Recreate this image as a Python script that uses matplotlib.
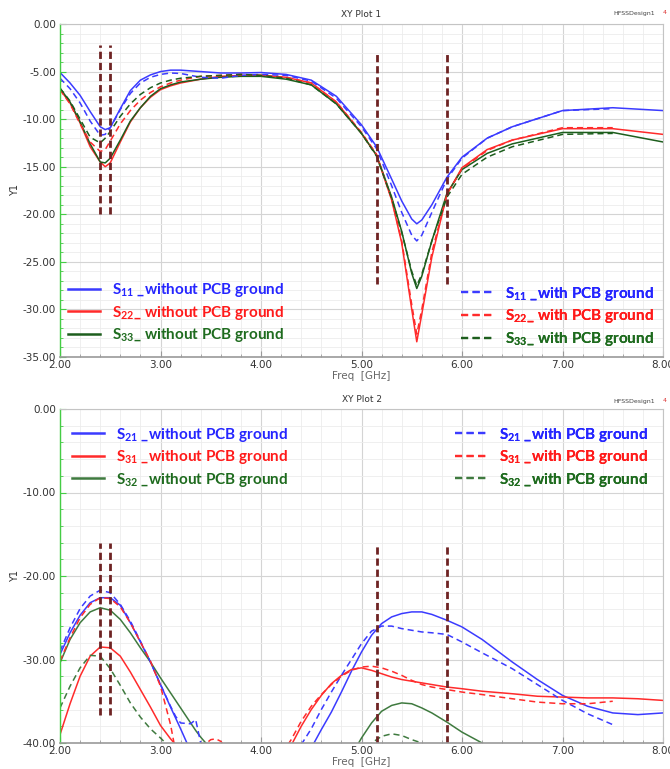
import numpy as np
import matplotlib
matplotlib.use("Agg")
import matplotlib.pyplot as plt
from matplotlib.lines import Line2D
from matplotlib.ticker import MultipleLocator, FormatStrFormatter

N = np.nan

# ---- XY Plot 1 : reflection (dB) ----
freq_top = [2.0, 2.1, 2.2, 2.3, 2.4, 2.45, 2.5, 2.6, 2.7, 2.8, 2.9, 3.0, 3.1, 3.2, 3.4, 3.6, 3.8, 4.0, 4.25,
            4.5, 4.75, 5.0, 5.15, 5.3, 5.4, 5.5, 5.55, 5.6, 5.7, 5.85, 6.0, 6.25, 6.5, 7.0, 7.5, 8.0]
s11_without = [-5.1, -6.2, -7.5, -9.2, -10.8, -11.1, -10.9, -8.9, -7.0, -5.9, -5.35, -5.0, -4.85, -4.85, -5.0,
               -5.15, -5.15, -5.1, -5.3, -5.9, -7.6, -10.6, -12.9, -16.3, -18.6, -20.5, -21.0, -20.6, -19.0,
               -16.1, -14.0, -12.0, -10.8, -9.1, -8.8, -9.1]
s11_with = [-5.7, -6.8, -8.3, -10.2, -11.7, -11.6, -10.9, -9.0, -7.3, -6.2, -5.6, -5.3, -5.15, -5.2, -5.6,
            -5.7, -5.4, -5.3, -5.4, -6.0, -7.8, -10.8, -13.1, -17.0, -19.8, -22.2, -22.8, -22.2, -19.8,
            -16.3, -14.1, -12.0, -10.8, -9.1, -8.9, N]
s22_without = [-6.9, -8.3, -10.4, -12.9, -14.5, -15.0, -14.6, -12.4, -10.3, -8.8, -7.7, -6.9, -6.5, -6.2, -5.8,
               -5.5, -5.4, -5.4, -5.6, -6.2, -8.2, -11.5, -13.8, -18.5, -23.0, -30.0, -33.4, -30.5, -24.5,
               -17.9, -15.1, -13.2, -12.2, -11.0, -11.0, -11.6]
s22_with = [-6.9, -8.4, -10.5, -12.4, -13.4, -13.2, -12.3, -10.5, -9.1, -8.0, -7.2, -6.6, -6.2, -5.9, -5.5,
            -5.4, -5.3, -5.4, -5.6, -6.2, -8.2, -11.4, -13.7, -18.4, -22.8, -29.5, -32.6, -30.0, -24.0,
            -17.9, -15.2, -13.3, -12.2, -10.9, -10.9, N]
s33_without = [-6.75, -8.2, -10.3, -12.6, -14.5, -14.6, -14.1, -12.2, -10.2, -8.8, -7.6, -6.8, -6.4, -6.1, -5.8,
               -5.6, -5.5, -5.5, -5.8, -6.4, -8.4, -11.5, -13.8, -18.2, -21.8, -26.2, -27.8, -26.5, -22.8,
               -17.8, -15.3, -13.6, -12.6, -11.4, -11.4, -12.4]
s33_with = [-6.75, -8.1, -10.0, -11.9, -12.5, -12.0, -11.3, -9.7, -8.4, -7.4, -6.7, -6.2, -5.9, -5.7, -5.5,
            -5.4, -5.3, -5.4, -5.7, -6.4, -8.4, -11.5, -13.9, -18.3, -21.9, -26.0, -27.5, -26.3, -22.8,
            -18.2, -15.8, -14.0, -12.9, -11.6, -11.5, N]

# ---- XY Plot 2 : isolation (dB) ----
freq_bot = [2.0, 2.1, 2.2, 2.3, 2.4, 2.5, 2.6, 2.7, 2.8, 2.9, 3.0, 3.1, 3.15, 3.2, 3.3, 3.35, 3.4, 3.45,
            3.5, 3.55, 3.6, 3.65, 4.2, 4.3, 4.4, 4.5, 4.6, 4.7, 4.8, 4.9, 5.0, 5.1, 5.2, 5.3, 5.4, 5.5,
            5.6, 5.7, 5.85, 6.0, 6.2, 6.5, 6.75, 7.0, 7.25, 7.5, 7.75, 8.0]
s21_without = [-29.4, -26.8, -24.7, -23.2, -22.6, -22.6, -23.5, -25.6, -27.9, -30.3, -33.0, -35.7, -37.0,
               -38.3, -41.0, N, N, N, N, N, N, N,
               N, N, N, -40.6, -38.4, -36.3, -33.9, -31.4, -29.1, -27.1, -25.7, -24.9, -24.5, -24.3, -24.3,
               -24.6, -25.3, -26.1, -27.6, -30.3, -32.4, -34.3, -35.6, -36.4, -36.6, -36.4]
s21_with = [-29.0, -26.2, -23.9, -22.4, -21.7, -22.0, -23.4, -25.4, -27.8, -30.3, -33.0, -35.6, -36.8,
            -37.6, -37.7, -37.2, -40.0, -41.5, N, N, N, N,
            N, N, -40.2, -38.3, -36.0, -33.9, -31.9, -30.0, -28.1, -26.6, -26.0, -26.0, -26.3, -26.5, -26.7,
            -26.8, -27.0, -27.9, -29.2, -31.1, -33.0, -34.9, -36.5, -37.8, N, N]
s31_without = [-39.0, -35.3, -32.0, -29.6, -28.5, -28.6, -29.6, -31.5, -33.6, -35.7, -37.9, -39.5, -40.2,
               -41.5, N, N, N, N, N, N, N, N,
               N, -40.3, -38.0, -36.0, -34.3, -32.9, -31.9, -31.2, -31.0, -31.3, -31.7, -32.1, -32.4, -32.6,
               -32.8, -33.0, -33.3, -33.5, -33.8, -34.1, -34.4, -34.5, -34.6, -34.6, -34.7, -34.9]
s31_with = [-30.2, -27.4, -25.0, -23.4, -22.6, -22.7, -23.7, -25.6, -27.9, -30.2, -33.2, -37.8, -41.0,
            N, N, N, -42.0, -40.1, -39.6, -39.5, -39.8, -40.6,
            -41.5, -39.6, -37.4, -35.6, -34.2, -33.0, -32.0, -31.3, -30.9, -30.8, -31.0, -31.4, -31.9, -32.5,
            -33.0, -33.3, -33.6, -33.9, -34.2, -34.7, -35.1, -35.3, -35.3, -35.0, N, N]
s32_without = [-30.4, -27.6, -25.6, -24.3, -23.8, -24.1, -25.2, -26.8, -28.6, -30.3, -32.2, -34.0, -34.9,
               -35.8, -37.6, -38.5, -39.3, -40.0, -41.0, N, N, N,
               N, N, N, N, N, N, N, -41.5, -39.4, -37.6, -36.2, -35.5, -35.2, -35.3, -35.8, -36.4, -37.5,
               -38.7, -40.0, -42.0, N, N, N, N, N, N]
s32_with = [-35.8, -33.2, -31.0, -29.5, -29.6, -31.1, -33.1, -35.2, -36.9, -38.3, -39.4, -40.6, N,
            N, N, N, N, N, N, N, N, N,
            N, N, N, N, N, N, N, N, -41.5, -40.0, -39.2, -38.9, -39.1, -39.6, -40.0, -41.0,
            N, N, N, N, N, N, N, N, N, N]

# WiFi band edge markers (GHz) and their vertical span on each plot (dB)
band_low = [2.4, 2.5]
band_high = [5.15, 5.85]
top_low_span = (-20.0, -2.2)
top_high_span = (-27.3, -3.2)
bot_low_span = (-36.6, -16.1)
bot_high_span = (-40.0, -16.1)

BLUE = "#3b3bff"
RED = "#ff2b2b"
GREEN_TOP = "#1d5e1d"
GREEN_BOT = "#3f7a3f"
MARK = "#6e2323"

plt.rcParams["mathtext.fontset"] = "custom"
plt.rcParams["mathtext.rm"] = "Lato:bold"
plt.rcParams["mathtext.it"] = "Lato:bold"
plt.rcParams["mathtext.bf"] = "Lato:bold"

fig = plt.figure(figsize=(6.7, 7.69), dpi=100)
ax1 = fig.add_axes([60 / 670, 1 - 357 / 769, 603 / 670, 333 / 769])
ax2 = fig.add_axes([60 / 670, 1 - 743 / 769, 603 / 670, 334 / 769])


def style_axes(ax, ymin, ymajor, yminor, title):
    ax.set_xlim(2, 8)
    ax.set_ylim(ymin, 0)
    ax.xaxis.set_major_locator(MultipleLocator(1))
    ax.xaxis.set_minor_locator(MultipleLocator(0.2))
    ax.yaxis.set_major_locator(MultipleLocator(ymajor))
    ax.yaxis.set_minor_locator(MultipleLocator(yminor))
    ax.xaxis.set_major_formatter(FormatStrFormatter("%.2f"))
    ax.yaxis.set_major_formatter(FormatStrFormatter("%.2f"))
    ax.grid(which="major", color="#d4d4d4", lw=0.8)
    ax.grid(which="minor", color="#ececec", lw=0.6)
    ax.set_axisbelow(True)
    for side in ["top", "right"]:
        ax.spines[side].set_color("#c4c4c4")
        ax.spines[side].set_linewidth(0.8)
    ax.spines["left"].set_color("#44cc44")
    ax.spines["left"].set_linewidth(1.0)
    ax.spines["bottom"].set_color("#9a9a9a")
    ax.spines["bottom"].set_linewidth(1.2)
    ax.tick_params(axis="x", which="both", direction="in", colors="#9a9a9a", labelcolor="#333333",
                   labelsize=7.5, pad=2)
    ax.tick_params(axis="x", which="major", length=4)
    ax.tick_params(axis="x", which="minor", length=2.5)
    ax.tick_params(axis="y", which="both", direction="in", colors="#44cc44", labelcolor="#333333",
                   labelsize=7.5, pad=3)
    ax.tick_params(axis="y", which="major", length=4)
    ax.tick_params(axis="y", which="minor", length=2)
    ax.set_xlabel("Freq  [GHz]", fontsize=7.5, color="#666666", labelpad=1)
    ax.set_ylabel("Y1", fontsize=7, color="#333333", labelpad=2)
    ax.set_title(title, fontsize=6.5, color="#333333", pad=5)


dash = (4, 2.6)
lw = 1.1

style_axes(ax1, -35, 5, 1, "XY Plot 1")
ax1.plot(freq_top, s11_without, color=BLUE, lw=lw)
ax1.plot(freq_top, s22_without, color=RED, lw=lw)
ax1.plot(freq_top, s33_without, color=GREEN_TOP, lw=lw)
ax1.plot(freq_top, s11_with, color=BLUE, lw=lw, dashes=dash)
ax1.plot(freq_top, s22_with, color=RED, lw=lw, dashes=dash)
ax1.plot(freq_top, s33_with, color=GREEN_TOP, lw=lw, dashes=dash)
ax1.vlines(band_low, *top_low_span, color=MARK, lw=2.0, linestyles=(0, (2.6, 1.4)))
ax1.vlines(band_high, *top_high_span, color=MARK, lw=2.0, linestyles=(0, (2.6, 1.4)))

style_axes(ax2, -40, 10, 2, "XY Plot 2")
ax2.plot(freq_bot, s21_without, color=BLUE, lw=lw)
ax2.plot(freq_bot, s31_without, color=RED, lw=lw)
ax2.plot(freq_bot, s32_without, color=GREEN_BOT, lw=lw)
ax2.plot(freq_bot, s21_with, color=BLUE, lw=lw, dashes=dash)
ax2.plot(freq_bot, s31_with, color=RED, lw=lw, dashes=dash)
ax2.plot(freq_bot, s32_with, color=GREEN_BOT, lw=lw, dashes=dash)
ax2.vlines(band_low, *bot_low_span, color=MARK, lw=2.0, linestyles=(0, (2.6, 1.4)))
ax2.vlines(band_high, *bot_high_span, color=MARK, lw=2.0, linestyles=(0, (2.6, 1.4)))

text_colors = ["#2525ff", "#ff1a1a", "#1e6b1e"]
leg_font = {"family": "Lato", "weight": "bold", "size": 11}


def add_legend(ax, labels, colors, dashed, anchor):
    handles = []
    for lab, c in zip(labels, colors):
        if dashed:
            handles.append(Line2D([], [], color=c, lw=1.6, dashes=(3.2, 2.0), label=lab))
        else:
            handles.append(Line2D([], [], color=c, lw=1.8, label=lab))
    leg = ax.legend(handles=handles, loc="center left", bbox_to_anchor=anchor, frameon=False,
                    prop=leg_font, handlelength=2.1, handletextpad=0.8, labelspacing=0.3,
                    borderpad=0, borderaxespad=0)
    for t, c in zip(leg.get_texts(), text_colors):
        t.set_color(c)
    ax.add_artist(leg)


add_legend(ax1, [r"$\mathrm{S_{11}}$ _without PCB ground", r"$\mathrm{S_{22}}$_ without PCB ground",
                 r"$\mathrm{S_{33}}$_ without PCB ground"],
           [BLUE, RED, GREEN_TOP], False, (0.013, 0.133))
add_legend(ax1, [r"$\mathrm{S_{11}}$ _with PCB ground", r"$\mathrm{S_{22}}$_ with PCB ground",
                 r"$\mathrm{S_{33}}$_ with PCB ground"],
           [BLUE, RED, GREEN_TOP], True, (0.665, 0.122))
add_legend(ax2, [r"$\mathrm{S_{21}}$ _without PCB ground", r"$\mathrm{S_{31}}$ _without PCB ground",
                 r"$\mathrm{S_{32}}$ _without PCB ground"],
           [BLUE, RED, GREEN_BOT], False, (0.02, 0.856))
add_legend(ax2, [r"$\mathrm{S_{21}}$ _with PCB ground", r"$\mathrm{S_{31}}$ _with PCB ground",
                 r"$\mathrm{S_{32}}$ _with PCB ground"],
           [BLUE, RED, GREEN_BOT], True, (0.655, 0.856))

for y in [1 - 13 / 769, 1 - 401 / 769]:
    fig.text(0.978, y, "HFSSDesign1", fontsize=4.5, color="#444444", ha="right", va="center")
    fig.text(0.992, y, "4", fontsize=4.5, color="#dd3333", ha="center", va="center")

fig.savefig("out.png", dpi=100)
